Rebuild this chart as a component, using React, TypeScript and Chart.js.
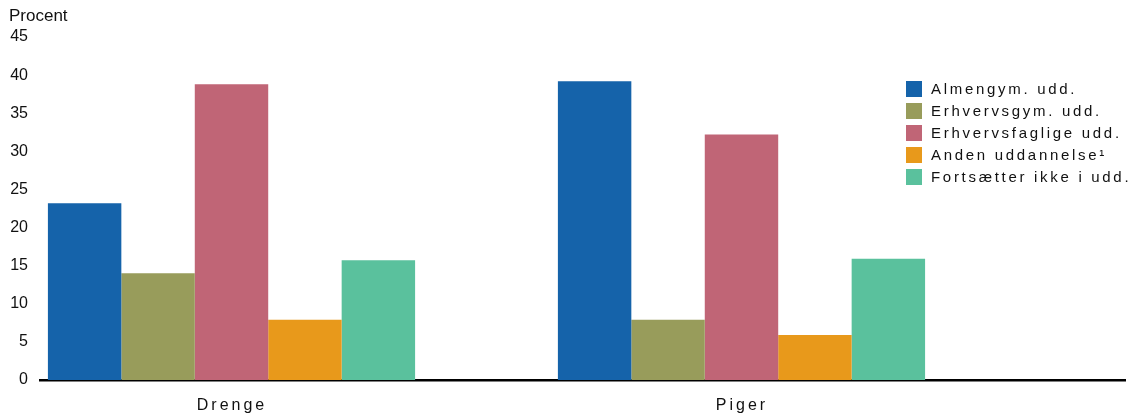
import React, { useEffect, useRef } from 'react';
import { Chart, registerables } from 'chart.js';

Chart.register(...registerables);

// ---- data ----
const categories = ['Drenge', 'Piger'];
const seriesNames = [
  'Almengym. udd.',
  'Erhvervsgym. udd.',
  'Erhvervsfaglige udd.',
  'Anden uddannelse¹',
  'Fortsætter ikke i udd.',
];
const almengym = [23.2, 39.2];
const erhvervsgym = [14.0, 7.9];
const erhvervsfaglige = [38.8, 32.2];
const andenUddannelse = [7.9, 5.9];
const fortsaetterIkke = [15.7, 15.9];
const seriesValues = [almengym, erhvervsgym, erhvervsfaglige, andenUddannelse, fortsaetterIkke];
const seriesColors = ['#1563aa', '#989c5b', '#c06576', '#e8991b', '#5ac19d'];
const yAxisTitle = 'Procent';
const yMin = 0;
const yMax = 45;
const yStep = 5;

const FONT = "'Liberation Sans', Arial, sans-serif";

const textPlugin = {
  id: 'customText',
  afterDraw(chart: any) {
    const ctx = chart.ctx as CanvasRenderingContext2D;
    const xs = chart.scales.x;
    ctx.save();
    ctx.fillStyle = '#111';
    // y-axis title
    ctx.font = `17px ${FONT}`;
    (ctx as any).letterSpacing = '0px';
    ctx.textAlign = 'left';
    ctx.textBaseline = 'middle';
    ctx.fillText(yAxisTitle, 9, 16);
    // category labels
    ctx.font = `16px ${FONT}`;
    (ctx as any).letterSpacing = '3px';
    ctx.textAlign = 'center';
    categories.forEach((c, i) => {
      ctx.fillText(c, xs.getPixelForValue(i) + 0.5, 406);
    });
    // legend
    ctx.font = `15px ${FONT}`;
    (ctx as any).letterSpacing = '2.7px';
    ctx.textAlign = 'left';
    chart.data.datasets.forEach((ds: any, i: number) => {
      const top = 81 + i * 22;
      ctx.fillStyle = ds.backgroundColor;
      ctx.fillRect(906, top, 16, 16);
      ctx.fillStyle = '#111';
      ctx.fillText(ds.label, 931, top + 8.5);
    });
    (ctx as any).letterSpacing = '0px';
    ctx.restore();
  },
};

export default function App() {
  const ref = useRef<HTMLCanvasElement>(null);
  useEffect(() => {
    if (!ref.current) return;
    const chart = new Chart(ref.current, {
      type: 'bar',
      data: {
        datasets: seriesNames.map((name, s) => ({
          label: name,
          data: seriesValues[s].map((v, i) => ({ x: i, y: v })),
          backgroundColor: seriesColors[s],
          borderWidth: 0,
          barPercentage: 1,
          categoryPercentage: 0.72,
        })),
      },
      options: {
        animation: false,
        responsive: true,
        maintainAspectRatio: false,
        devicePixelRatio: 1,
        layout: { padding: { top: 37, right: 11, bottom: 35, left: 0 } },
        plugins: {
          legend: { display: false },
          tooltip: { enabled: false },
          title: { display: false },
        },
        scales: {
          x: {
            type: 'linear',
            offset: false,
            min: -0.3755,
            max: 1.752,
            bounds: 'data',
            afterBuildTicks: (scale: any) => {
              scale.ticks = categories.map((_, i) => ({ value: i }));
            },
            ticks: { display: false },
            grid: { display: false, drawTicks: false },
            border: { display: true, color: '#000', width: 2.5 },
          },
          y: {
            min: yMin,
            max: yMax,
            ticks: {
              stepSize: yStep,
              color: '#111',
              padding: 12,
              font: { family: FONT, size: 16 },
            },
            grid: { display: false, drawTicks: false },
            border: { display: false },
            afterFit: (scale: any) => {
              scale.width = 40;
            },
          },
        },
      },
      plugins: [textPlugin],
    } as any);
    return () => chart.destroy();
  }, []);
  return (
    <div style={{ position: 'absolute', left: 0, top: 0, width: 1136, height: 415 }}>
      <canvas ref={ref} />
    </div>
  );
}
